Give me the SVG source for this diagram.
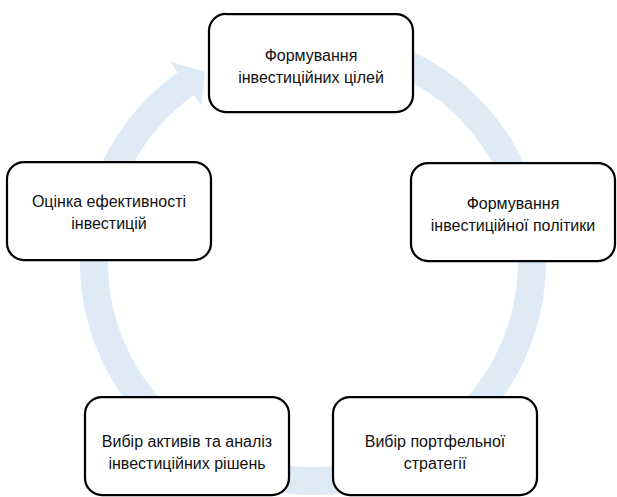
<svg xmlns="http://www.w3.org/2000/svg" width="617" height="497" viewBox="0 0 617 497">
<style>
.node rect{fill:#ffffff;stroke:#000000;stroke-width:2.25}
.node text{font-family:"Liberation Sans",Arial,sans-serif;font-size:16px;fill:#111111;text-anchor:middle;dominant-baseline:central}
.band{fill:#deebf7;stroke:none}
</style>
<rect width="617" height="497" fill="#ffffff"/>
<g id="connectors">
<path class="band" d="M392.7,43.1 A233,233 0 1 1 177.7,72.3 L170.1,61.7 L204.8,71.6 L201.5,105.7 L194.0,95.1 A205,205 0 1 0 383.1,69.4 Z"/>
</g>
<g id="node-goals" class="node">
<rect x="209" y="14" width="204" height="98" rx="17" ry="17"/>
<text x="311" y="55">Формування</text>
<text x="311" y="77">інвестиційних цілей</text>
</g>
<g id="node-policy" class="node">
<rect x="411" y="163" width="204" height="98" rx="17" ry="17"/>
<text x="513" y="203">Формування</text>
<text x="513" y="225">інвестиційної політики</text>
</g>
<g id="node-strategy" class="node">
<rect x="333" y="397" width="204" height="98" rx="17" ry="17"/>
<text x="435" y="441">Вибір портфельної</text>
<text x="435" y="463">стратегії</text>
</g>
<g id="node-analysis" class="node">
<rect x="85" y="397" width="204" height="98" rx="17" ry="17"/>
<text x="187" y="441">Вибір активів та аналіз</text>
<text x="187" y="463">інвестиційних рішень</text>
</g>
<g id="node-evaluation" class="node">
<rect x="7" y="162" width="204" height="98" rx="17" ry="17"/>
<text x="109" y="201">Оцінка ефективності</text>
<text x="109" y="223">інвестицій</text>
</g>
</svg>
